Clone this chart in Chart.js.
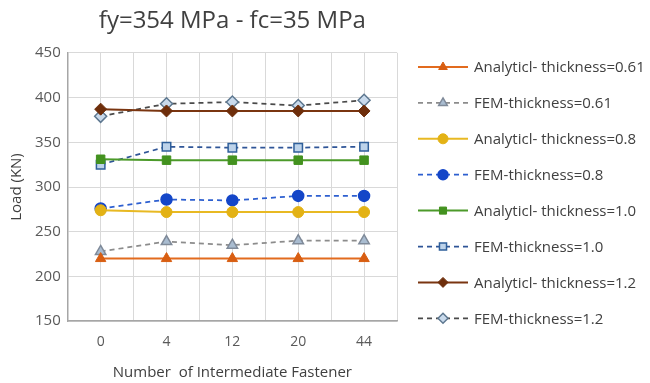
<!DOCTYPE html>
<html>
<head>
<meta charset="utf-8">
<script src="https://cdn.jsdelivr.net/npm/chart.js"></script>
<style>
  html, body { margin: 0; padding: 0; background: #fff; }
  #wrap { width: 650px; height: 383px; }
</style>
</head>
<body>
<div id="wrap"><canvas id="myChart" width="650" height="383"></canvas></div>
<script>
// categories on the x axis
var fasteners = ['0', '4', '12', '20', '44'];

// series values (kN)
var analytic061 = [220, 220, 220, 220, 220];
var fem061      = [228, 239, 235, 240, 240];
var analytic08  = [274, 272, 272, 272, 272];
var fem08       = [276, 286, 285, 290, 290];
var analytic10  = [331, 330, 330, 330, 330];
var fem10       = [325, 345, 344, 344, 345];
var analytic12  = [387, 385, 385, 385, 385];
var fem12       = [379, 393, 395, 391, 397];

var yTicks = [150, 200, 250, 300, 350, 400, 450];

var FONT = '"Open Sans", Lato, sans-serif';

function pts(arr) {
  return arr.map(function (v, i) { return { x: i, y: v }; });
}

function series(label, values, color, style, fill, border, solid, radius) {
  return {
    label: label,
    data: pts(values),
    borderColor: color,
    backgroundColor: fill,
    pointBackgroundColor: fill,
    pointBorderColor: border,
    pointBorderWidth: solid ? 1 : 1.5,
    pointStyle: style,
    pointRadius: radius,
    borderWidth: solid ? 2 : 1.75,
    borderDash: solid ? [] : [5, 4],
    tension: 0,
    fill: false
  };
}

var datasets = [
  series('Analyticl- thickness=0.61', analytic061, '#E26B1E', 'triangle', '#D85E12', '#D85E12', true, 6),
  series('FEM-thickness=0.61', fem061, '#8C8C8C', 'triangle', '#A9BCD0', '#7F8A99', false, 6),
  series('Analyticl- thickness=0.8', analytic08, '#E8B923', 'circle', '#E3B215', '#E3B215', true, 5.5),
  series('FEM-thickness=0.8', fem08, '#2D5FD0', 'circle', '#1446C8', '#1446C8', false, 5.5),
  series('Analyticl- thickness=1.0', analytic10, '#4C9A2A', 'rect', '#43921F', '#43921F', true, 6),
  series('FEM-thickness=1.0', fem10, '#2F5597', 'rect', '#BDD3EA', '#2F5F9A', false, 6),
  series('Analyticl- thickness=1.2', analytic12, '#7A3510', 'rectRot', '#6E2E0B', '#6E2E0B', true, 6),
  series('FEM-thickness=1.2', fem12, '#4A4A4A', 'rectRot', '#C9DAEC', '#5E7890', false, 6)
];

// legend on the right, line + marker + text like the spreadsheet legend
var sideLegend = {
  id: 'sideLegend',
  afterDraw: function (chart) {
    var ctx = chart.ctx;
    var x0 = 418, x1 = 468, y = 67, step = 35.9;
    chart.data.datasets.forEach(function (ds) {
      ctx.save();
      ctx.strokeStyle = ds.borderColor;
      ctx.lineWidth = ds.borderWidth;
      ctx.setLineDash(ds.borderDash);
      ctx.beginPath();
      ctx.moveTo(x0, y);
      ctx.lineTo(x1, y);
      ctx.stroke();
      ctx.setLineDash([]);
      ctx.fillStyle = ds.pointBackgroundColor;
      ctx.strokeStyle = ds.pointBorderColor;
      ctx.lineWidth = ds.pointBorderWidth;
      Chart.helpers.drawPoint(ctx, {
        pointStyle: ds.pointStyle, rotation: 0, radius: 5, borderWidth: ds.pointBorderWidth
      }, (x0 + x1) / 2, y);
      ctx.fillStyle = '#404040';
      ctx.font = '15px ' + FONT;
      ctx.textBaseline = 'middle';
      ctx.textAlign = 'left';
      ctx.fillText(ds.label, 474, y + 1);
      ctx.restore();
      y += step;
    });
  }
};

new Chart(document.getElementById('myChart'), {
  type: 'line',
  data: { datasets: datasets },
  plugins: [sideLegend],
  options: {
    responsive: false,
    animation: false,
    layout: { padding: { left: 4, right: 253, top: 7, bottom: 1 } },
    plugins: {
      legend: { display: false },
      tooltip: { enabled: false },
      title: {
        display: true,
        fullSize: false,
        text: 'fy=354 MPa - fc=35 MPa',
        color: '#404040',
        font: { family: FONT, size: 24, weight: 'normal' },
        padding: { top: 0, bottom: 17 }
      }
    },
    scales: {
      x: {
        type: 'linear',
        min: -0.5,
        max: 4.5,
        afterBuildTicks: function (axis) {
          var t = [];
          for (var v = -0.5; v <= 4.5001; v += 0.5) t.push({ value: v });
          axis.ticks = t;
        },
        ticks: {
          autoSkip: false,
          maxRotation: 0,
          color: '#595959',
          font: { family: FONT, size: 14 },
          padding: 12,
          callback: function (v) {
            return Number.isInteger(v) ? fasteners[v] : '';
          }
        },
        grid: { color: '#D9D9D9', lineWidth: 1, drawTicks: false },
        border: { color: '#A6A6A6', width: 1.5 },
        title: {
          display: true,
          text: 'Number  of Intermediate Fastener',
          color: '#404040',
          font: { family: FONT, size: 15 },
          padding: { top: 2, bottom: 0 }
        }
      },
      y: {
        min: 150,
        max: 450,
        afterBuildTicks: function (axis) {
          axis.ticks = yTicks.map(function (v) { return { value: v }; });
        },
        ticks: {
          color: '#595959',
          font: { family: FONT, size: 15 },
          padding: 7
        },
        grid: { color: '#D9D9D9', lineWidth: 1, drawTicks: false },
        border: { color: '#A6A6A6', width: 1.5 },
        title: {
          display: true,
          text: 'Load (KN)',
          color: '#404040',
          font: { family: FONT, size: 15 },
          padding: { bottom: 2 }
        }
      }
    }
  }
});
</script>
</body>
</html>
